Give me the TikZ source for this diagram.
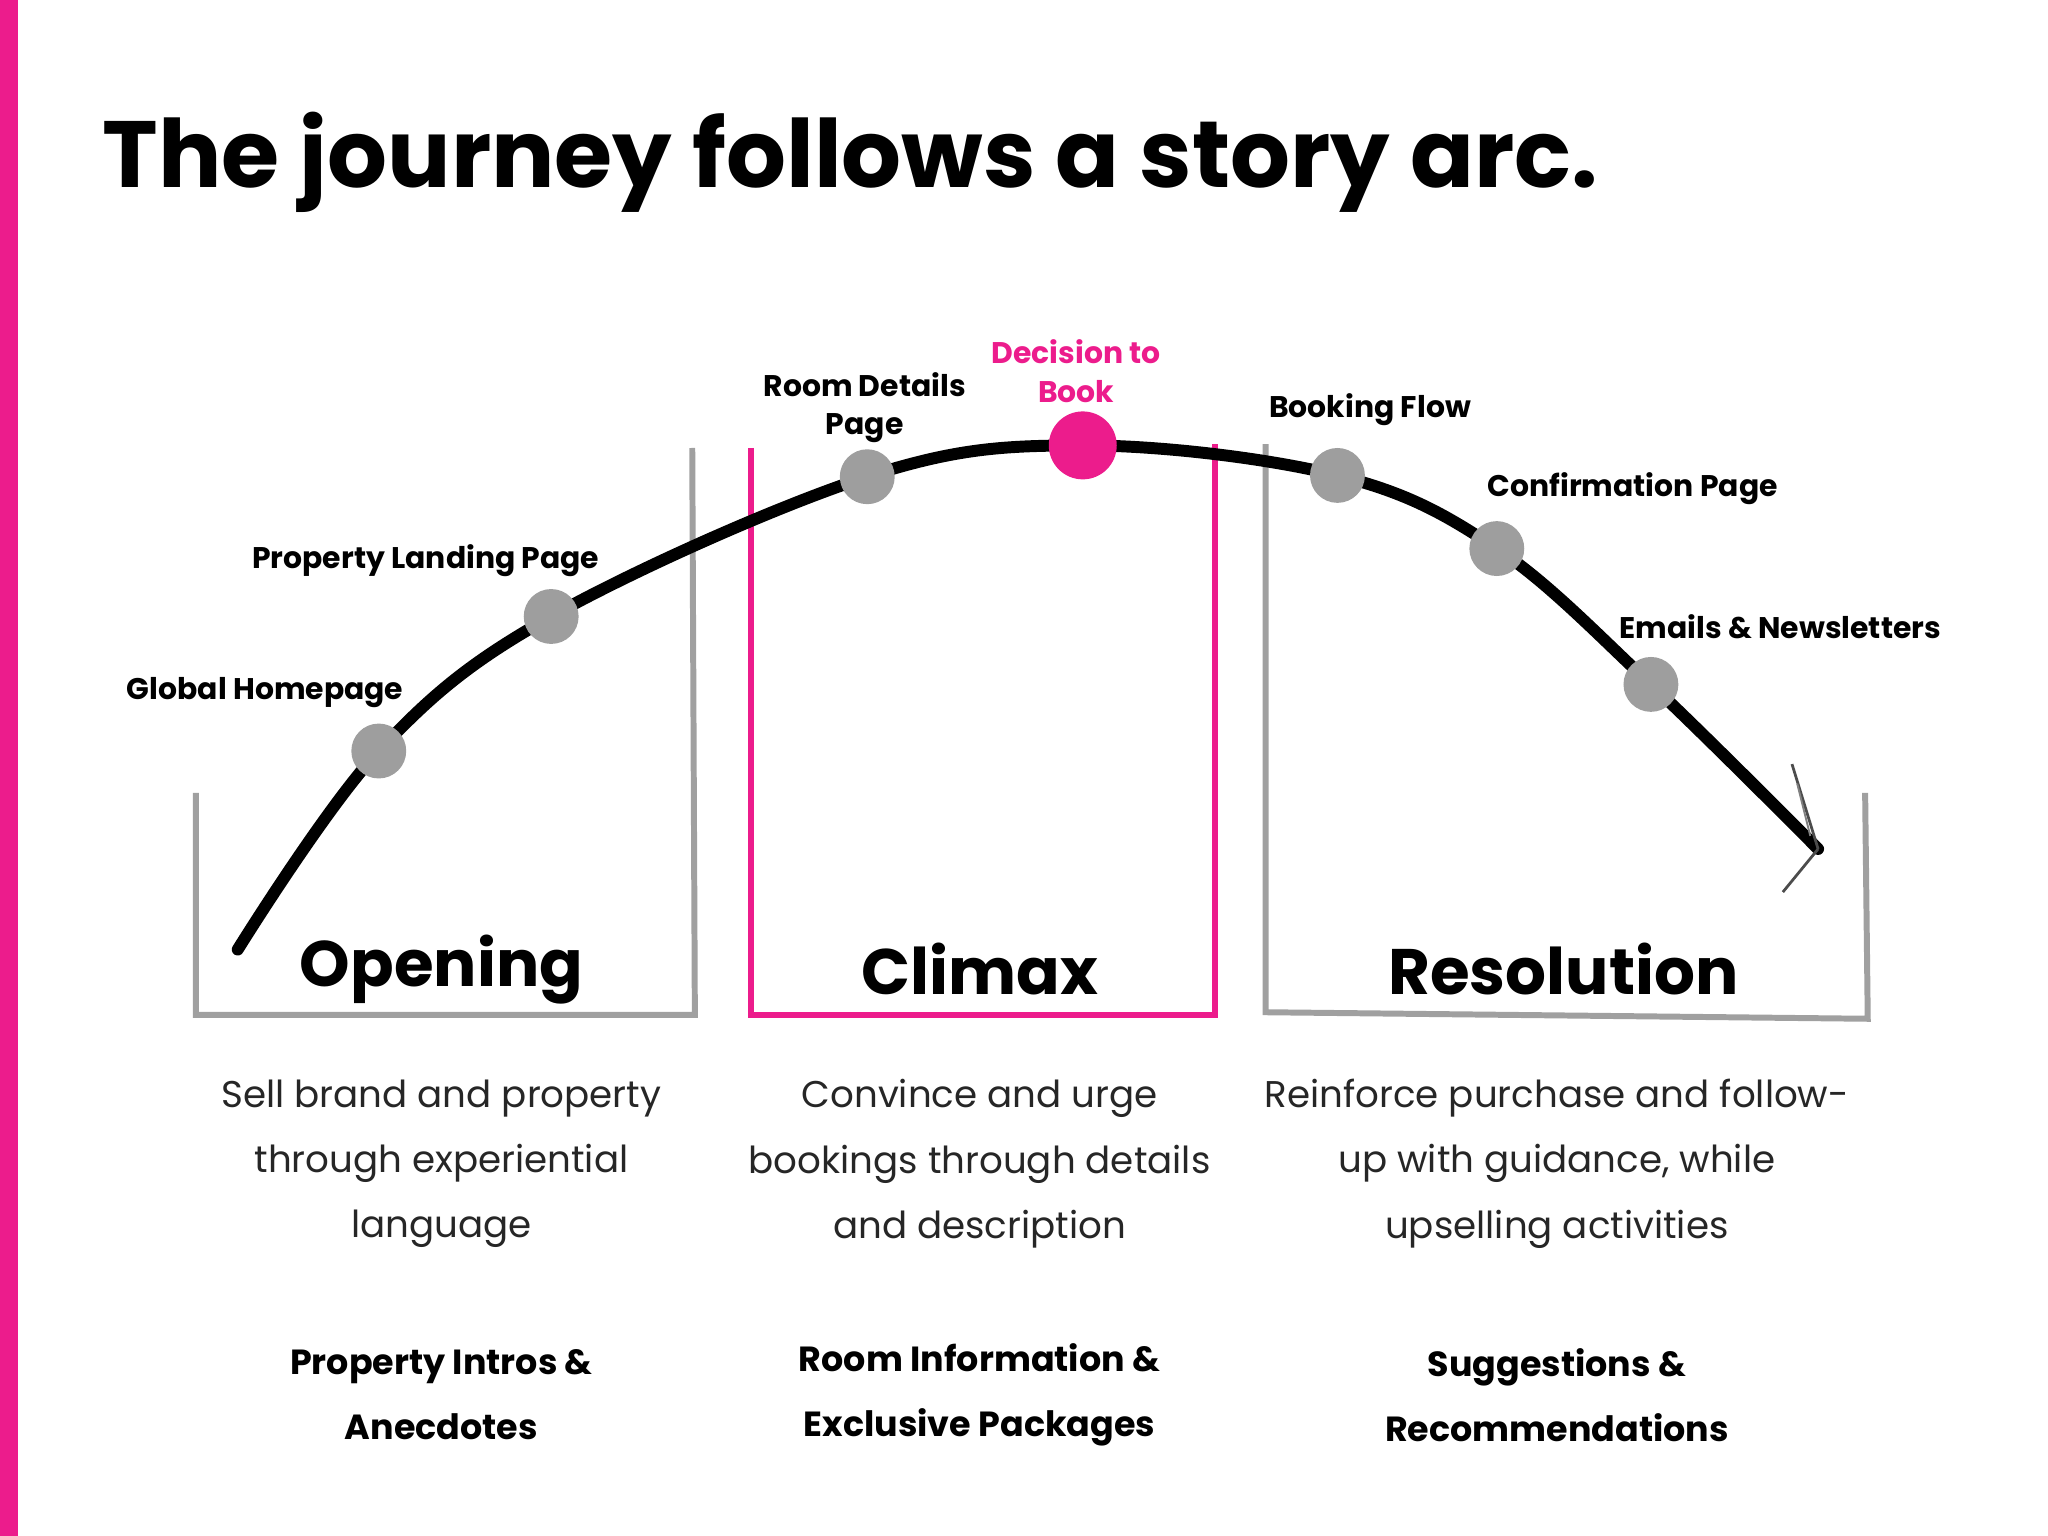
\documentclass[tikz,border=0pt]{standalone}
\usepackage{fontspec}
\setmainfont{Poppins}
\usetikzlibrary{arrows.meta}
\definecolor{mag}{HTML}{EC1C8C}
\definecolor{dotg}{HTML}{9E9E9E}
\definecolor{boxg}{HTML}{A0A0A0}
\tikzset{
  lbl/.style={font=\bfseries\fontsize{6.5}{8.4}\selectfont, align=center, inner sep=0},
  head/.style={font=\bfseries\fontsize{14}{18}\selectfont, inner sep=0},
  desc/.style={font=\fontsize{8.1}{14.2}\selectfont, align=center, inner sep=0, text=black!85},
  foot/.style={font=\bfseries\fontsize{7.6}{14.2}\selectfont, align=center, inner sep=0},
  gdot/.style={circle, fill=dotg, minimum size=0.42cm, inner sep=0},
  gbox/.style={draw=boxg, line width=1.3pt},
  pbox/.style={draw=mag, line width=1.3pt}
}
\begin{document}
\begin{tikzpicture}[x=0.01cm,y=-0.01cm]
\useasboundingbox (0,0) rectangle (1568,1176);
\fill[mag] (0,0) rectangle (14,1176);
\node[anchor=west, inner sep=0] (title) at (78,124) {\resizebox{11.44cm}{!}{\bfseries The journey follows a story arc.}};
% boxes
\draw[gbox] (150,607) -- (150,777) -- (532,777) -- (530,343);
\draw[pbox] (575,343) -- (575,777) -- (930,777) -- (930,340);
\draw[gbox] (969,340) -- (969,775) -- (1430,780) -- (1428,607);
% curve
\draw[line width=2.6pt, line cap=round] plot[smooth, tension=0.6] coordinates {(182,727) (290,575) (422,472) (664,365) (828,341) (1024,364) (1146,420) (1264,524) (1392,650)};
\coordinate (tip) at (1392,650);
\draw[black!70, line width=0.6pt] (tip) -- (1372,585);
\draw[black!70, line width=0.6pt] (tip) -- (1365,683);
\draw[black!50, line width=0.4pt] (1376,600) -- (1386,640);
% dots
\node[gdot] (d1) at (290,575) {};
\node[gdot] (d2) at (422,472) {};
\node[gdot] (d3) at (664,365) {};
\node[circle, fill=mag, minimum size=0.52cm, inner sep=0] (d4) at (829,341) {};
\node[gdot] (d5) at (1024,364) {};
\node[gdot] (d6) at (1146,420) {};
\node[gdot] (d7) at (1264,524) {};
% labels
\node[lbl] (l1) at (203,530) {Global Homepage};
\node[lbl] (l2) at (326,429) {Property Landing Page};
\node[lbl] (l3) at (662,312) {Room Details\\Page};
\node[lbl, text=mag] (l4) at (824,284) {Decision to\\Book};
\node[lbl] (l5) at (1049,314) {Booking Flow};
\node[lbl] (l6) at (1250,374) {Confirmation Page};
\node[lbl] (l7) at (1363,480) {Emails \& Newsletters};
% headings
\node[head] (h1) at (338,742) {Opening};
\node[head] (h2) at (750,742) {Climax};
\node[head] (h3) at (1197,742) {Resolution};
% descriptions
\node[desc] (e1) at (338,891) {Sell brand and property\\through experiential\\language};
\node[desc] (e2) at (750,891) {Convince and urge\\bookings through details\\and description};
\node[desc] (e3) at (1192,891) {Reinforce purchase and follow-\\up with guidance, while\\upselling activities};
% footers
\node[foot] (f1) at (338,1068) {Property Intros \&\\Anecdotes};
\node[foot] (f2) at (750,1068) {Room Information \&\\Exclusive Packages};
\node[foot] (f3) at (1192,1068) {Suggestions \&\\Recommendations};
\end{tikzpicture}
\end{document}
